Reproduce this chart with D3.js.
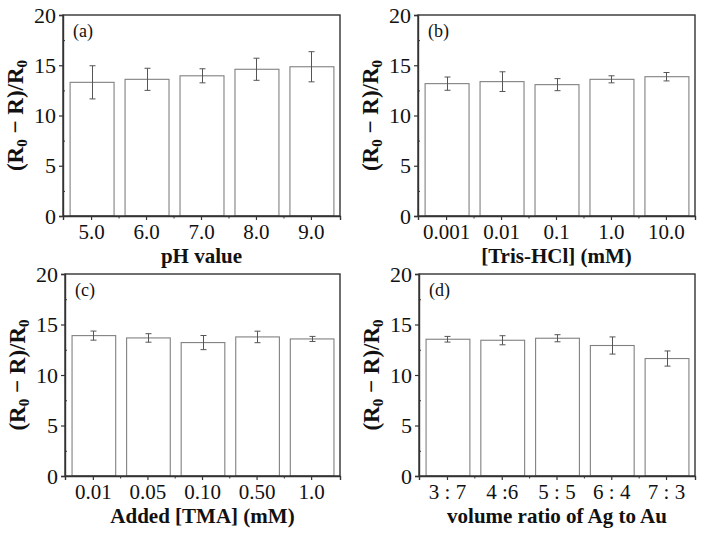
<!DOCTYPE html>
<html>
<head>
<meta charset="utf-8">
<script src="https://cdn.jsdelivr.net/npm/d3@7/dist/d3.min.js"></script>
<style>
  html, body { margin: 0; padding: 0; background: #fff; }
  svg { display: block; }
  text { font-family: "Liberation Serif", "Times New Roman", serif; fill: #111; }
</style>
</head>
<body>
<svg id="chart" width="703" height="536"></svg>
<script>
// ---- data ----
const catsA = ["5.0", "6.0", "7.0", "8.0", "9.0"];
const valsA = [13.3, 13.6, 13.95, 14.6, 14.85];
const errA  = [1.65, 1.1, 0.7, 1.1, 1.5];

const catsB = ["0.001", "0.01", "0.1", "1.0", "10.0"];
const valsB = [13.17, 13.37, 13.07, 13.6, 13.86];
const errB  = [0.66, 0.98, 0.6, 0.35, 0.42];

const catsC = ["0.01", "0.05", "0.10", "0.50", "1.0"];
const valsC = [13.9, 13.67, 13.21, 13.77, 13.57];
const errC  = [0.45, 0.42, 0.7, 0.57, 0.25];

const catsD = ["3 : 7", "4 :6", "5 : 5", "6 : 4", "7 : 3"];
const valsD = [13.54, 13.44, 13.64, 12.92, 11.63];
const errD  = [0.28, 0.45, 0.35, 0.85, 0.75];

const yTicks = [0, 5, 10, 15, 20];
const yMinorTicks = [2.5, 7.5, 12.5, 17.5];
const panelLabels = ["(a)", "(b)", "(c)", "(d)"];
const xTitles = ["pH value", "[Tris-HCl] (mM)", "Added [TMA] (mM)", "volume ratio of Ag to Au"];

const panels = [
  { cats: catsA, vals: valsA, errs: errA, label: panelLabels[0], xTitle: xTitles[0], x0: 63,  x1: 340, y0: 15,  y1: 216 },
  { cats: catsB, vals: valsB, errs: errB, label: panelLabels[1], xTitle: xTitles[1], x0: 418, x1: 695, y0: 15,  y1: 216 },
  { cats: catsC, vals: valsC, errs: errC, label: panelLabels[2], xTitle: xTitles[2], x0: 65,  x1: 340, y0: 274, y1: 476 },
  { cats: catsD, vals: valsD, errs: errD, label: panelLabels[3], xTitle: xTitles[3], x0: 419, x1: 695, y0: 274, y1: 476 }
];

const svg = d3.select("#chart");
const axisColor = "#333";
const barStroke = "#808080";
const errColor = "#555";

panels.forEach(p => {
  const g = svg.append("g");
  const x = d3.scaleBand().domain(p.cats).range([p.x0, p.x1]).paddingInner(0.2).paddingOuter(0.12);
  const y = d3.scaleLinear().domain([0, 20]).range([p.y1, p.y0]);

  // bars
  g.selectAll("rect.bar").data(p.cats).enter().append("rect")
    .attr("class", "bar")
    .attr("x", d => x(d) + 0.5)
    .attr("width", x.bandwidth())
    .attr("y", (d, i) => y(p.vals[i]))
    .attr("height", (d, i) => y(0) - y(p.vals[i]))
    .attr("fill", "#fff")
    .attr("stroke", barStroke)
    .attr("stroke-width", 1.1);

  // error bars
  const cap = 3;
  p.cats.forEach((c, i) => {
    const cx = Math.round(x(c) + x.bandwidth() / 2) + 0.5;
    const yt = y(p.vals[i] + p.errs[i]);
    const yb = y(p.vals[i] - p.errs[i]);
    g.append("line").attr("x1", cx).attr("x2", cx).attr("y1", yt).attr("y2", yb)
      .attr("stroke", errColor).attr("stroke-width", 1);
    g.append("line").attr("x1", cx - cap).attr("x2", cx + cap).attr("y1", yt).attr("y2", yt)
      .attr("stroke", errColor).attr("stroke-width", 1);
    g.append("line").attr("x1", cx - cap).attr("x2", cx + cap).attr("y1", yb).attr("y2", yb)
      .attr("stroke", errColor).attr("stroke-width", 1);
  });

  // frame
  g.append("rect")
    .attr("x", p.x0).attr("y", p.y0)
    .attr("width", p.x1 - p.x0).attr("height", p.y1 - p.y0)
    .attr("fill", "none").attr("stroke", axisColor).attr("stroke-width", 1.4);

  // y axis
  const yAxis = d3.axisLeft(y).tickValues(yTicks).tickSize(4).tickPadding(3).tickFormat(d3.format("d"));
  const ya = g.append("g").attr("transform", `translate(${p.x0},0)`).call(yAxis);
  ya.select(".domain").attr("stroke", axisColor).attr("stroke-width", 1.4);
  ya.selectAll(".tick line").attr("stroke", axisColor).attr("stroke-width", 1.2);
  ya.selectAll(".tick text").attr("font-size", 22).attr("fill", "#111");
  // y minor ticks (inward)
  const yMinor = d3.axisRight(y).tickValues(yMinorTicks).tickSize(2).tickFormat("");
  const ym = g.append("g").attr("transform", `translate(${p.x0},0)`).call(yMinor);
  ym.select(".domain").remove();
  ym.selectAll(".tick line").attr("stroke", axisColor);

  // x axis
  const xAxis = d3.axisBottom(x).tickSize(4).tickPadding(4);
  const xa = g.append("g").attr("transform", `translate(0,${p.y1})`).call(xAxis);
  xa.select(".domain").attr("stroke", axisColor).attr("stroke-width", 1.4);
  xa.selectAll(".tick line").attr("stroke", axisColor).attr("stroke-width", 1.2);
  xa.selectAll(".tick text").attr("font-size", 21).attr("fill", "#111");
  // x minor ticks between bars
  const mids = p.cats.slice(0, -1).map((c, i) =>
    (x(c) + x.bandwidth() / 2 + x(p.cats[i + 1]) + x.bandwidth() / 2) / 2);
  g.selectAll("line.xminor").data(mids).enter().append("line")
    .attr("x1", d => d).attr("x2", d => d)
    .attr("y1", p.y1).attr("y2", p.y1 + 2.5)
    .attr("stroke", axisColor).attr("stroke-width", 1);

  // panel label
  g.append("text").attr("x", p.x0 + 10).attr("y", p.y0 + 22)
    .attr("font-size", 18).text(p.label);

  // x title
  g.append("text")
    .attr("x", (p.x0 + p.x1) / 2)
    .attr("y", p.y1 + 47)
    .attr("text-anchor", "middle")
    .attr("font-size", 21).attr("font-weight", "bold")
    .text(p.xTitle);

  // y title
  const yt = g.append("text")
    .attr("transform", `translate(${p.x0 - 40},${(p.y0 + p.y1) / 2}) rotate(-90)`)
    .attr("text-anchor", "middle")
    .attr("font-size", 23).attr("font-weight", "bold");
  yt.append("tspan").text("(R");
  yt.append("tspan").attr("font-size", 15).attr("dy", 4).text("0");
  yt.append("tspan").attr("dy", -4).text(" \u2212 R)/R");
  yt.append("tspan").attr("font-size", 15).attr("dy", 4).text("0");
});
</script>
</body>
</html>
